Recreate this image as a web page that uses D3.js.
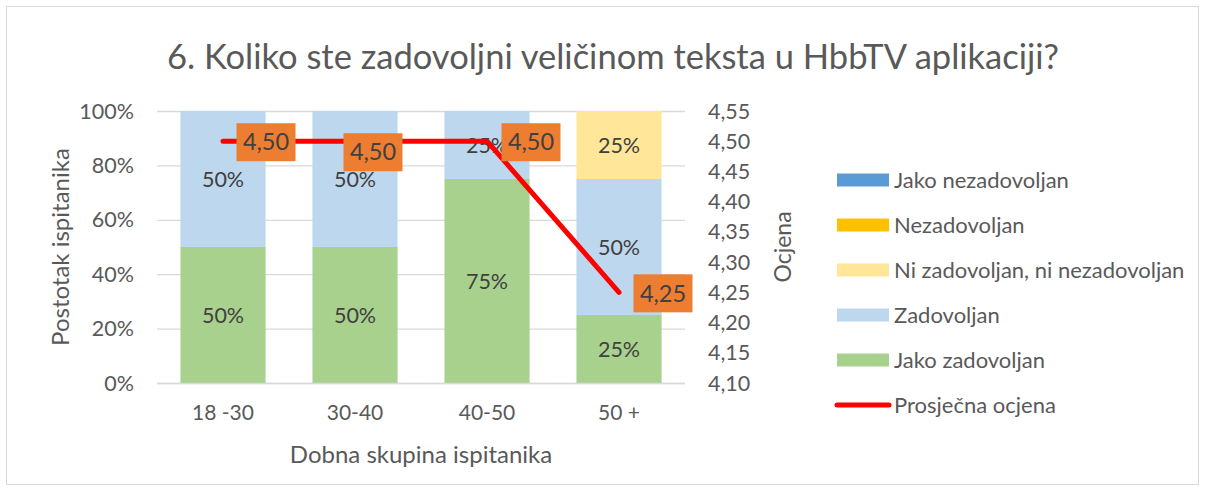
<!DOCTYPE html>
<html><head><meta charset="utf-8">
<script src="https://cdn.jsdelivr.net/npm/d3@7"></script>
<style>body{margin:0;background:#fff}svg{display:block}</style>
</head><body><svg id="c" width="1206" height="492"></svg>
<script>
const categories = ["18 -30", "30-40", "40-50", "50 +"];
const seriesNames = ["Jako zadovoljan", "Zadovoljan", "Ni zadovoljan, ni nezadovoljan", "Nezadovoljan", "Jako nezadovoljan"];
const jakoZadovoljan = [0.50, 0.50, 0.75, 0.25];
const zadovoljan = [0.50, 0.50, 0.25, 0.50];
const niNi = [0, 0, 0, 0.25];
const nezadovoljan = [0, 0, 0, 0];
const jakoNezadovoljan = [0, 0, 0, 0];
const prosjecnaOcjena = [4.50, 4.50, 4.50, 4.25];
const leftTicks = [0, 0.2, 0.4, 0.6, 0.8, 1.0];
const rightTicks = [4.10, 4.15, 4.20, 4.25, 4.30, 4.35, 4.40, 4.45, 4.50, 4.55];
const title = "6. Koliko ste zadovoljni veličinom teksta u HbbTV aplikaciji?";

const colors = ["#A9D18E", "#BDD7EE", "#FFE699", "#FFC000", "#5B9BD5"];
const FONT = "Lato, 'Open Sans', sans-serif";
const TXT = "#595959";

const svg = d3.select("#c");
svg.append("rect").attr("x", 6.5).attr("y", 6.5).attr("width", 1192).attr("height", 478)
  .attr("fill", "#fff").attr("stroke", "#d9d9d9");

const x = d3.scaleBand().domain(categories).range([157, 685]).paddingInner(0.355).paddingOuter(0.1775);
const y = d3.scaleLinear().domain([0, 1]).range([383, 111]);
const y2 = d3.scaleLinear().domain([4.10, 4.55]).range([383, 111]);

// gridlines
svg.append("g").selectAll("line").data(leftTicks).join("line")
  .attr("x1", 157).attr("x2", 685).attr("y1", d => y(d) + 0.5).attr("y2", d => y(d) + 0.5)
  .attr("stroke", "#d9d9d9").attr("stroke-width", 1.3);

// left axis labels
svg.append("g").selectAll("text").data(leftTicks).join("text")
  .attr("x", 134).attr("y", d => y(d)).attr("dy", "0.35em").attr("text-anchor", "end")
  .attr("font-family", FONT).attr("font-size", 21.5).attr("fill", TXT)
  .text(d => d3.format(".0%")(d));

// right axis labels
svg.append("g").selectAll("text").data(rightTicks).join("text")
  .attr("x", 708).attr("y", d => y2(d)).attr("dy", "0.35em").attr("text-anchor", "start")
  .attr("font-family", FONT).attr("font-size", 21.5).attr("fill", TXT)
  .text(d => d3.format(".2f")(d).replace(".", ","));

// stacked bars
const seriesValues = [jakoZadovoljan, zadovoljan, niNi, nezadovoljan, jakoNezadovoljan];
const rows = categories.map((c, i) => {
  const r = {cat: c};
  seriesNames.forEach((s, k) => r[s] = seriesValues[k][i]);
  return r;
});
const stack = d3.stack().keys(seriesNames)(rows);
const gBars = svg.append("g");
stack.forEach((layer, k) => {
  gBars.append("g").attr("fill", colors[k]).selectAll("rect").data(layer).join("rect")
    .attr("x", d => x(d.data.cat)).attr("width", x.bandwidth())
    .attr("y", d => y(d[1])).attr("height", d => y(d[0]) - y(d[1]));
});
stack.forEach((layer, k) => {
  gBars.append("g").selectAll("text").data(layer.filter(d => d[1] - d[0] > 0)).join("text")
    .attr("x", d => x(d.data.cat) + x.bandwidth() / 2)
    .attr("y", d => (y(d[0]) + y(d[1])) / 2).attr("dy", "0.35em")
    .attr("text-anchor", "middle").attr("font-family", FONT).attr("font-size", 21.5).attr("fill", "#404040")
    .text(d => d3.format(".0%")(d[1] - d[0]));
});

// baseline
svg.append("line").attr("x1", 157).attr("x2", 685).attr("y1", 383.5).attr("y2", 383.5).attr("stroke", "#d9d9d9").attr("stroke-width", 1.3);

// line
const line = d3.line().x((d, i) => x(categories[i]) + x.bandwidth() / 2).y(d => y2(d));
svg.append("path").datum(prosjecnaOcjena).attr("d", line).attr("fill", "none")
  .attr("stroke", "#FF0000").attr("stroke-width", 5).attr("stroke-linecap", "round").attr("stroke-linejoin", "round");

// line labels
const labOff = [[43, 1], [18, 11], [44, 1], [44, 1]];
const gl = svg.append("g");
prosjecnaOcjena.forEach((v, i) => {
  const cx = x(categories[i]) + x.bandwidth() / 2 + labOff[i][0];
  const cy = y2(v) + labOff[i][1];
  gl.append("rect").attr("x", cx - 29.5).attr("y", cy - 19).attr("width", 59).attr("height", 38).attr("fill", "#ED7D31");
  gl.append("text").attr("x", cx).attr("y", cy).attr("dy", "0.35em").attr("text-anchor", "middle")
    .attr("font-family", FONT).attr("font-size", 23.5).attr("fill", "#404040")
    .text(d3.format(".2f")(v).replace(".", ","));
});

// title
svg.append("text").attr("x", 613).attr("y", 57).attr("dy", "0.35em").attr("text-anchor", "middle")
  .attr("font-family", FONT).attr("font-size", 34.5).attr("fill", TXT).text(title);

// x labels
svg.append("g").selectAll("text").data(categories).join("text")
  .attr("x", d => x(d) + x.bandwidth() / 2).attr("y", 413).attr("dy", "0.35em").attr("text-anchor", "middle")
  .attr("font-family", FONT).attr("font-size", 21).attr("fill", TXT).text(d => d);

// axis titles
svg.append("text").attr("x", 421).attr("y", 455).attr("dy", "0.35em").attr("text-anchor", "middle")
  .attr("font-family", FONT).attr("font-size", 24).attr("fill", TXT).text("Dobna skupina ispitanika");
svg.append("text").attr("transform", "translate(61,247) rotate(-90)").attr("dy", "0.35em").attr("text-anchor", "middle")
  .attr("font-family", FONT).attr("font-size", 24).attr("fill", TXT).text("Postotak ispitanika");
svg.append("text").attr("transform", "translate(783,247) rotate(-90)").attr("dy", "0.35em").attr("text-anchor", "middle")
  .attr("font-family", FONT).attr("font-size", 23).attr("fill", TXT).text("Ocjena");

// legend
const legendItems = [
  {name: "Jako nezadovoljan", color: colors[4], type: "rect"},
  {name: "Nezadovoljan", color: colors[3], type: "rect"},
  {name: "Ni zadovoljan, ni nezadovoljan", color: colors[2], type: "rect"},
  {name: "Zadovoljan", color: colors[1], type: "rect"},
  {name: "Jako zadovoljan", color: colors[0], type: "rect"},
  {name: "Prosječna ocjena", color: "#FF0000", type: "line"}
];
const lg = svg.append("g");
legendItems.forEach((it, i) => {
  const cy = 180 + i * 45;
  if (it.type === "rect") {
    lg.append("rect").attr("x", 837).attr("y", cy - 6.5).attr("width", 52).attr("height", 13).attr("fill", it.color);
  } else {
    lg.append("line").attr("x1", 837).attr("x2", 889).attr("y1", cy).attr("y2", cy)
      .attr("stroke", it.color).attr("stroke-width", 5).attr("stroke-linecap", "round");
  }
  lg.append("text").attr("x", 894).attr("y", cy).attr("dy", "0.35em")
    .attr("font-family", FONT).attr("font-size", 22).attr("fill", TXT).text(it.name);
});
</script></body></html>
